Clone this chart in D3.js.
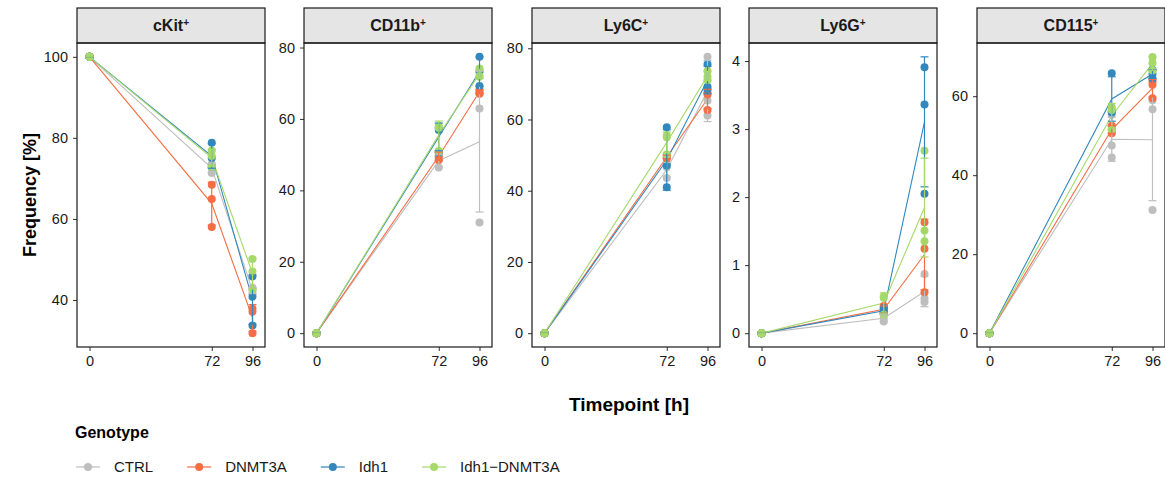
<!DOCTYPE html>
<html>
<head>
<meta charset="utf-8">
<script src="https://cdn.jsdelivr.net/npm/d3@7"></script>
<style>
  body { margin: 0; background: #fff; }
  text { font-family: "Liberation Sans", Arial, sans-serif; }
</style>
</head>
<body>
<svg id="chart" width="1165" height="479"></svg>
<script>
"use strict";
const markers = ["cKit", "CD11b", "Ly6C", "Ly6G", "CD115"];
const genotypes = ["CTRL", "DNMT3A", "Idh1", "Idh1\u2212DNMT3A"];
const timepoints = [0, 72, 96];
const colors = ["#bebebe", "#f46d43", "#3288bd", "#a6d96a"];

// replicates per genotype: [t0, t72, t96]
const cKitReps = [
    [[100, 100, 100], [72.9, 71.3, 73.5], [43.0, 42.5, 41.5]],
    [[100, 100, 100], [68.4, 64.9, 58.0], [37.8, 37.1, 31.8]],
    [[100, 100, 100], [78.8, 75.0, 72.8], [45.8, 40.8, 33.7]],
    [[100, 100, 100], [76.9, 75.5, 72.8], [50.1, 47.0, 42.5]]
];
const cd11bReps = [
    [[0, 0, 0], [46.4, 49.5, 49.0], [62.9, 31.0, 67.0]],
    [[0, 0, 0], [50.8, 49.4, 48.5], [68.2, 67.1, 67.5]],
    [[0, 0, 0], [56.9, 57.5, 50.5], [77.4, 73.2, 69.2]],
    [[0, 0, 0], [58.0, 57.5, 51.0], [74.1, 71.8, 72.0]]
];
const ly6cReps = [
    [[0, 0, 0], [46.6, 43.6, 47.5], [77.6, 65.3, 61.1]],
    [[0, 0, 0], [49.4, 50.0, 49.0], [67.6, 62.7, 67.0]],
    [[0, 0, 0], [57.8, 47.1, 41.0], [75.5, 69.2, 68.5]],
    [[0, 0, 0], [55.0, 50.2, 55.5], [73.6, 71.1, 72.0]]
];
const ly6gReps = [
    [[0, 0, 0], [0.27, 0.22, 0.17], [0.87, 0.51, 0.46]],
    [[0, 0, 0], [0.40, 0.35, 0.30], [1.63, 1.24, 0.60]],
    [[0, 0, 0], [0.37, 0.33, 0.29], [3.91, 3.36, 2.05]],
    [[0, 0, 0], [0.54, 0.52, 0.27], [2.68, 1.51, 1.35]]
];
const cd115Reps = [
    [[0, 0, 0], [55.3, 47.5, 44.5], [56.7, 31.2, 59.0]],
    [[0, 0, 0], [52.5, 51.6, 50.6], [63.7, 62.9, 59.5]],
    [[0, 0, 0], [65.8, 55.9, 56.2], [66.7, 65.6, 64.5]],
    [[0, 0, 0], [57.2, 56.5, 51.5], [69.9, 68.4, 66.5]]
];
const panelReps = [cKitReps, cd11bReps, ly6cReps, ly6gReps, cd115Reps];
const yTicks = [
    [40, 60, 80, 100],
    [0, 20, 40, 60, 80],
    [0, 20, 40, 60, 80],
    [0, 1, 2, 3, 4],
    [0, 20, 40, 60]
];

const svg = d3.select("#chart");
const panelLefts = [77, 304, 532, 749, 977];
const panelW = 188;
const stripTop = 8;
const plotTop = 43;
const plotBottom = 347;
const pad = 12.5;
const inkColor = "#1a1a1a";

panelReps.forEach((reps, p) => {
    const left = panelLefts[p];
    const g = svg.append("g");
    const stats = [];
    reps.forEach((byTime, gi) => {
        byTime.forEach((vals, ti) => {
            const mean = d3.mean(vals);
            const sd = d3.deviation(vals) || 0;
            stats.push({ g: gi, t: timepoints[ti], vals, mean, lo: mean - sd, hi: mean + sd });
        });
    });
    const lo = d3.min(stats, d => Math.min(d.lo, d3.min(d.vals)));
    const hi = d3.max(stats, d => Math.max(d.hi, d3.max(d.vals)));
    const ext = (hi - lo) * 0.05;
    const y = d3.scaleLinear().domain([lo - ext, hi + ext]).range([plotBottom, plotTop]);
    const x = d3.scaleLinear().domain([0, 96]).range([left + pad, left + panelW - pad]);

    // strip
    g.append("rect")
        .attr("x", left).attr("y", stripTop)
        .attr("width", panelW).attr("height", plotTop - stripTop)
        .attr("fill", "#e5e5e5").attr("stroke", inkColor).attr("stroke-width", 1.2);
    const lab = g.append("text")
        .attr("x", left + panelW / 2).attr("y", 31)
        .attr("text-anchor", "middle")
        .attr("font-size", 16).attr("font-weight", "bold").attr("fill", inkColor);
    lab.append("tspan").text(markers[p]);
    lab.append("tspan").attr("font-size", 10).attr("dy", -5).text("+");

    // axes
    const yAxis = d3.axisLeft(y).tickValues(yTicks[p]).tickFormat(d3.format("d")).tickSize(4).tickPadding(5);
    const xAxis = d3.axisBottom(x).tickValues(timepoints).tickFormat(d3.format("d")).tickSize(4).tickPadding(5);
    const ya = g.append("g").attr("transform", `translate(${left},0)`).call(yAxis);
    const xa = g.append("g").attr("transform", `translate(0,${plotBottom})`).call(xAxis);
    [ya, xa].forEach(a => {
        a.select(".domain").remove();
        a.selectAll("line").attr("stroke", "#333");
        a.selectAll("text").attr("font-size", 14.5).attr("fill", inkColor)
            .attr("font-family", "Liberation Sans, Arial, sans-serif");
    });

    // mean lines
    const line = d3.line().x(d => x(d.t)).y(d => y(d.mean));
    genotypes.forEach((name, gi) => {
        g.append("path")
            .datum(stats.filter(d => d.g === gi))
            .attr("d", line).attr("fill", "none")
            .attr("stroke", colors[gi]).attr("stroke-width", 1.1);
    });

    // replicate points
    genotypes.forEach((name, gi) => {
        stats.filter(d => d.g === gi).forEach(d => {
            g.selectAll(null).data(d.vals).enter().append("circle")
                .attr("cx", x(d.t)).attr("cy", v => y(v))
                .attr("r", 4).attr("fill", colors[gi]);
        });
    });

    // error bars (mean +/- sd)
    genotypes.forEach((name, gi) => {
        stats.filter(d => d.g === gi).forEach(d => {
            const cx = x(d.t);
            const eg = g.append("g").attr("stroke", colors[gi]).attr("stroke-width", 1.2);
            eg.append("line").attr("x1", cx).attr("x2", cx).attr("y1", y(d.lo)).attr("y2", y(d.hi));
            eg.append("line").attr("x1", cx - 4).attr("x2", cx + 4).attr("y1", y(d.lo)).attr("y2", y(d.lo));
            eg.append("line").attr("x1", cx - 4).attr("x2", cx + 4).attr("y1", y(d.hi)).attr("y2", y(d.hi));
        });
    });

    // panel border
    g.append("rect")
        .attr("x", left).attr("y", plotTop)
        .attr("width", panelW).attr("height", plotBottom - plotTop)
        .attr("fill", "none").attr("stroke", inkColor).attr("stroke-width", 1.2);
});

// axis titles
svg.append("text")
    .attr("transform", "translate(36,195) rotate(-90)")
    .attr("text-anchor", "middle").attr("font-size", 18).attr("font-weight", "bold")
    .attr("fill", "#000").text("Frequency [%]");
svg.append("text")
    .attr("x", 629).attr("y", 411)
    .attr("text-anchor", "middle").attr("font-size", 19).attr("font-weight", "bold")
    .attr("fill", "#000").text("Timepoint [h]");

// legend
svg.append("text")
    .attr("x", 75).attr("y", 438)
    .attr("font-size", 16).attr("font-weight", "bold").attr("fill", "#000")
    .text("Genotype");
let lx = 76;
genotypes.forEach((name, gi) => {
    const lg = svg.append("g");
    lg.append("line").attr("x1", lx).attr("x2", lx + 24).attr("y1", 467).attr("y2", 467)
        .attr("stroke", colors[gi]).attr("stroke-width", 1.2);
    lg.append("circle").attr("cx", lx + 12).attr("cy", 467).attr("r", 4).attr("fill", colors[gi]);
    const t = lg.append("text").attr("x", lx + 38).attr("y", 472)
        .attr("font-size", 15).attr("fill", inkColor).text(name);
    lx = lx + 38 + t.node().getComputedTextLength() + 34;
});
</script>
</body>
</html>
